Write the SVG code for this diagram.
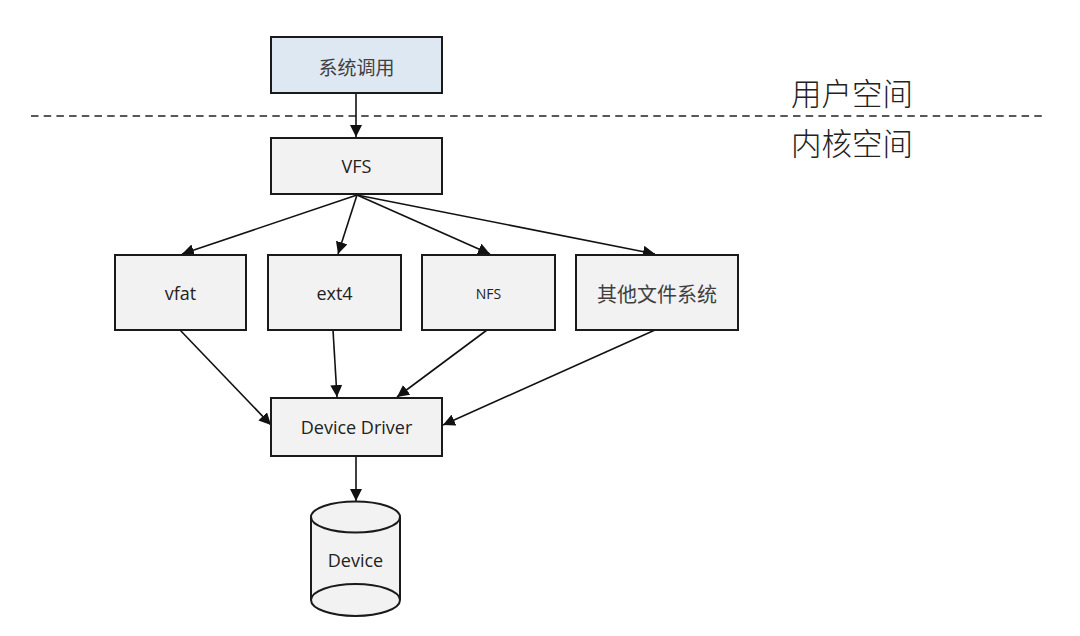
<svg xmlns="http://www.w3.org/2000/svg" width="1080" height="636" viewBox="0 0 1080 636">
<defs>
<style>
.box{fill:#f2f2f2;stroke:#1a1a1a;stroke-width:2}
.lbl{font-family:"Open Sans","Noto Sans","Noto Sans CJK SC",sans-serif;font-size:18px;fill:#222;text-anchor:middle;dominant-baseline:central}
.cjk{font-family:"Noto Sans CJK SC",sans-serif;font-size:19px;fill:#404040;text-anchor:middle;dominant-baseline:central}
.big{font-family:"Noto Sans CJK SC",sans-serif;font-weight:300;font-size:30.5px;fill:#222;dominant-baseline:central}
.edge{stroke:#111;stroke-width:1.6;fill:none;marker-end:url(#ah)}
</style>
<marker id="ah" viewBox="0 0 10 10" refX="10" refY="5" markerWidth="7.5" markerHeight="7.5" orient="auto" markerUnits="strokeWidth">
<path d="M0,0 L10,5 L0,10 z" fill="#111"/>
</marker>
</defs>
<rect width="1080" height="636" fill="#fff"/>
<line x1="31" y1="116" x2="1047" y2="116" stroke="#222" stroke-width="1.6" stroke-dasharray="7.5,5.2"/>
<text class="big" x="791" y="92">用户空间</text>
<text class="big" x="791" y="142">内核空间</text>
<g id="edges">
<line class="edge" x1="356" y1="93" x2="356" y2="137"/>
<line class="edge" x1="357" y1="195" x2="182" y2="254"/>
<line class="edge" x1="357" y1="195" x2="338" y2="254"/>
<line class="edge" x1="357" y1="195" x2="490" y2="254"/>
<line class="edge" x1="357" y1="195" x2="655" y2="254"/>
<line class="edge" x1="180" y1="330" x2="271" y2="425"/>
<line class="edge" x1="333" y1="330" x2="337" y2="397"/>
<line class="edge" x1="487" y1="330" x2="397" y2="397"/>
<line class="edge" x1="655" y1="330" x2="443" y2="425"/>
<line class="edge" x1="356" y1="456" x2="356" y2="501"/>
</g>
<g id="syscall">
<rect x="271" y="37" width="171" height="56" fill="#dee8f3" stroke="#1a1a1a" stroke-width="2"/>
<text class="cjk" x="356.5" y="66">系统调用</text>
</g>
<g id="vfs">
<rect class="box" x="271" y="138" width="171" height="56"/>
<text class="lbl" x="356.5" y="166">VFS</text>
</g>
<g id="vfat">
<rect class="box" x="115" y="255" width="131" height="75"/>
<text class="lbl" x="180.5" y="293">vfat</text>
</g>
<g id="ext4">
<rect class="box" x="268" y="255" width="133" height="75"/>
<text class="lbl" x="334.5" y="293">ext4</text>
</g>
<g id="nfs">
<rect class="box" x="422" y="255" width="133" height="75"/>
<text class="lbl" x="488.5" y="293" style="font-size:14px">NFS</text>
</g>
<g id="other">
<rect class="box" x="576" y="255" width="162" height="75"/>
<text class="cjk" x="657" y="293" style="font-size:20px">其他文件系统</text>
</g>
<g id="driver">
<rect class="box" x="271" y="398" width="171" height="58"/>
<text class="lbl" x="356.5" y="427">Device Driver</text>
</g>
<g id="device">
<path d="M311,517 L311,600 A44.5,16 0 0 0 400,600 L400,517" fill="#f2f2f2" stroke="#1a1a1a" stroke-width="2"/>
<ellipse cx="355.5" cy="517" rx="44.5" ry="15.5" fill="#f2f2f2" stroke="#1a1a1a" stroke-width="2"/>
<path d="M311,600 A44.5,16 0 0 1 400,600" fill="none" stroke="#1a1a1a" stroke-width="2"/>
<text class="lbl" x="355.5" y="560">Device</text>
</g>
</svg>
